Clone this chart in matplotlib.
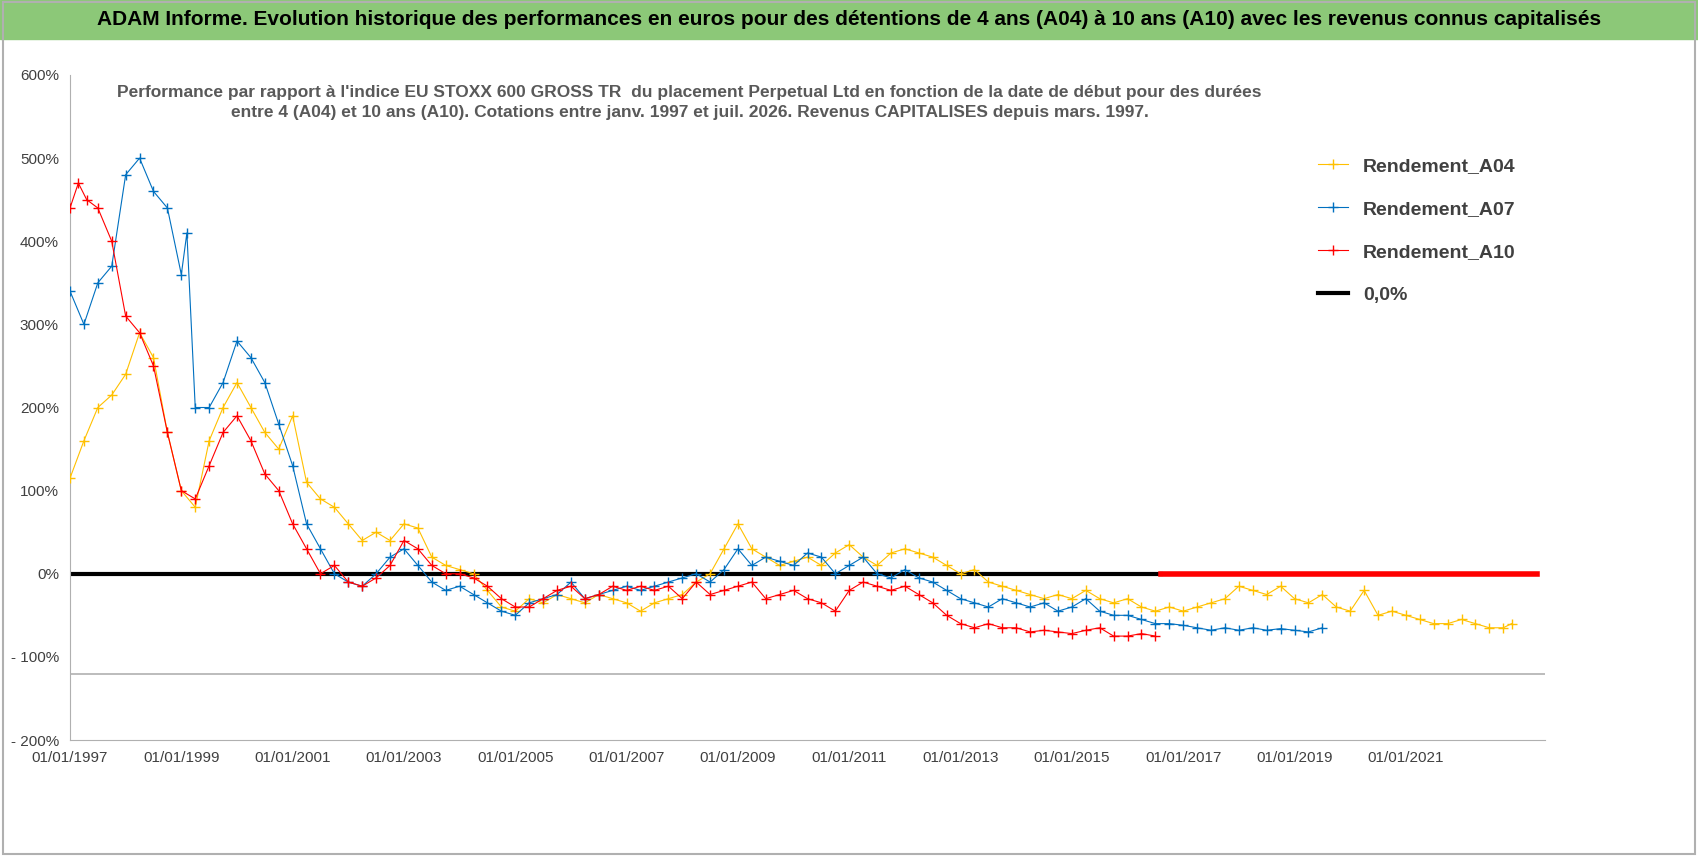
import matplotlib.pyplot as plt
from matplotlib.patches import Rectangle

plt.rcParams['font.family'] = ['Liberation Sans', 'DejaVu Sans']

# dates as decimal years, values in %
a04_x = [1997.0, 1997.25, 1997.5, 1997.75, 1998.0, 1998.25, 1998.5, 1998.75, 1999.0, 1999.25, 1999.5, 1999.75,
         2000.0, 2000.25, 2000.5, 2000.75, 2001.0, 2001.25, 2001.5, 2001.75, 2002.0, 2002.25, 2002.5, 2002.75,
         2003.0, 2003.25, 2003.5, 2003.75, 2004.0, 2004.25, 2004.5, 2004.75, 2005.0, 2005.25, 2005.5, 2005.75,
         2006.0, 2006.25, 2006.5, 2006.75, 2007.0, 2007.25, 2007.5, 2007.75, 2008.0, 2008.25, 2008.5, 2008.75,
         2009.0, 2009.25, 2009.5, 2009.75, 2010.0, 2010.25, 2010.5, 2010.75, 2011.0, 2011.25, 2011.5, 2011.75,
         2012.0, 2012.25, 2012.5, 2012.75, 2013.0, 2013.25, 2013.5, 2013.75, 2014.0, 2014.25, 2014.5, 2014.75,
         2015.0, 2015.25, 2015.5, 2015.75, 2016.0, 2016.25, 2016.5, 2016.75, 2017.0, 2017.25, 2017.5, 2017.75,
         2018.0, 2018.25, 2018.5, 2018.75, 2019.0, 2019.25, 2019.5, 2019.75, 2020.0, 2020.25, 2020.5, 2020.75,
         2021.0, 2021.25, 2021.5, 2021.75, 2022.0, 2022.25, 2022.5, 2022.75, 2022.9]
a04_y = [115, 160, 200, 215, 240, 290, 260, 170, 100, 80, 160, 200,
         230, 200, 170, 150, 190, 110, 90, 80, 60, 40, 50, 40,
         60, 55, 20, 10, 5, 0, -20, -40, -45, -30, -35, -25,
         -30, -35, -25, -30, -35, -45, -35, -30, -25, -10, 0, 30,
         60, 30, 20, 10, 15, 20, 10, 25, 35, 20, 10, 25,
         30, 25, 20, 10, 0, 5, -10, -15, -20, -25, -30, -25,
         -30, -20, -30, -35, -30, -40, -45, -40, -45, -40, -35, -30,
         -15, -20, -25, -15, -30, -35, -25, -40, -45, -20, -50, -45,
         -50, -55, -60, -60, -55, -60, -65, -65, -60]

a07_x = [1997.0, 1997.25, 1997.5, 1997.75, 1998.0, 1998.25, 1998.5, 1998.75, 1999.0, 1999.1, 1999.25, 1999.5,
         1999.75, 2000.0, 2000.25, 2000.5, 2000.75, 2001.0, 2001.25, 2001.5, 2001.75, 2002.0, 2002.25, 2002.5,
         2002.75, 2003.0, 2003.25, 2003.5, 2003.75, 2004.0, 2004.25, 2004.5, 2004.75, 2005.0, 2005.25, 2005.5,
         2005.75, 2006.0, 2006.25, 2006.5, 2006.75, 2007.0, 2007.25, 2007.5, 2007.75, 2008.0, 2008.25, 2008.5,
         2008.75, 2009.0, 2009.25, 2009.5, 2009.75, 2010.0, 2010.25, 2010.5, 2010.75, 2011.0, 2011.25, 2011.5,
         2011.75, 2012.0, 2012.25, 2012.5, 2012.75, 2013.0, 2013.25, 2013.5, 2013.75, 2014.0, 2014.25, 2014.5,
         2014.75, 2015.0, 2015.25, 2015.5, 2015.75, 2016.0, 2016.25, 2016.5, 2016.75, 2017.0, 2017.25, 2017.5,
         2017.75, 2018.0, 2018.25, 2018.5, 2018.75, 2019.0, 2019.25, 2019.5]
a07_y = [340, 300, 350, 370, 480, 500, 460, 440, 360, 410, 200, 200,
         230, 280, 260, 230, 180, 130, 60, 30, 0, -10, -15, 0,
         20, 30, 10, -10, -20, -15, -25, -35, -45, -50, -35, -30,
         -25, -10, -30, -25, -20, -15, -20, -15, -10, -5, 0, -10,
         5, 30, 10, 20, 15, 10, 25, 20, 0, 10, 20, 0,
         -5, 5, -5, -10, -20, -30, -35, -40, -30, -35, -40, -35,
         -45, -40, -30, -45, -50, -50, -55, -60, -60, -62, -65, -68,
         -65, -68, -65, -68, -66, -68, -70, -65]

a10_x = [1997.0, 1997.15, 1997.3, 1997.5, 1997.75, 1998.0, 1998.25, 1998.5, 1998.75, 1999.0, 1999.25, 1999.5,
         1999.75, 2000.0, 2000.25, 2000.5, 2000.75, 2001.0, 2001.25, 2001.5, 2001.75, 2002.0, 2002.25, 2002.5,
         2002.75, 2003.0, 2003.25, 2003.5, 2003.75, 2004.0, 2004.25, 2004.5, 2004.75, 2005.0, 2005.25, 2005.5,
         2005.75, 2006.0, 2006.25, 2006.5, 2006.75, 2007.0, 2007.25, 2007.5, 2007.75, 2008.0, 2008.25, 2008.5,
         2008.75, 2009.0, 2009.25, 2009.5, 2009.75, 2010.0, 2010.25, 2010.5, 2010.75, 2011.0, 2011.25, 2011.5,
         2011.75, 2012.0, 2012.25, 2012.5, 2012.75, 2013.0, 2013.25, 2013.5, 2013.75, 2014.0, 2014.25, 2014.5,
         2014.75, 2015.0, 2015.25, 2015.5, 2015.75, 2016.0, 2016.25, 2016.5]
a10_y = [440, 470, 450, 440, 400, 310, 290, 250, 170, 100, 90, 130,
         170, 190, 160, 120, 100, 60, 30, 0, 10, -10, -15, -5,
         10, 40, 30, 10, 0, 0, -5, -15, -30, -40, -40, -30,
         -20, -15, -30, -25, -15, -20, -15, -20, -15, -30, -10, -25,
         -20, -15, -10, -30, -25, -20, -30, -35, -45, -20, -10, -15,
         -20, -15, -25, -35, -50, -60, -65, -60, -65, -65, -70, -68,
         -70, -72, -68, -65, -75, -75, -72, -75]

# A10 has no 10-year window after mid-2016: drawn at 0
a10_zero_x = [2016.6, 2017.0, 2017.5, 2018.0, 2018.5, 2019.0, 2019.5, 2020.0, 2020.5, 2021.0, 2021.5, 2022.0,
              2022.5, 2023.0, 2023.35]
a10_zero_y = [0, 0, 0, 0, 0, 0, 0, 0, 0, 0, 0, 0, 0, 0, 0]

zero_x = [1997.0, 2016.6]
zero_y = [0, 0]

tick_years = [1997, 1999, 2001, 2003, 2005, 2007, 2009, 2011, 2013, 2015, 2017, 2019, 2021]
y_ticks = [-200, -100, 0, 100, 200, 300, 400, 500, 600]

fig = plt.figure(figsize=(16.98, 8.56), dpi=100)
fig.patches.append(Rectangle((0, 0.955), 1, 0.045, transform=fig.transFigure, color='#8cc878', zorder=0))
fig.patches.append(Rectangle((0.002, 0.002), 0.996, 0.996, transform=fig.transFigure, fill=False,
                             edgecolor='#b0b0b0', lw=1.5))
fig.text(0.5, 0.977, "ADAM Informe. Evolution historique des performances en euros pour des détentions de 4 ans (A04) "
         "à 10 ans (A10) avec les revenus connus capitalisés",
         ha='center', va='center', fontsize=15, fontweight='bold')

ax = fig.add_axes([70 / 1698, 1 - 740 / 856, 1475 / 1698, 665 / 856])
ms = 7
ax.plot(a04_x, a04_y, color='#ffc000', marker='+', ms=ms, lw=0.8, label='Rendement_A04', zorder=3)
ax.plot(a07_x, a07_y, color='#0070c0', marker='+', ms=ms, lw=0.8, label='Rendement_A07', zorder=4)
ax.plot(a10_x, a10_y, color='#ff0000', marker='+', ms=ms, lw=0.8, label='Rendement_A10', zorder=5)
ax.plot(a10_zero_x, a10_zero_y, color='#ff0000', lw=4, zorder=5)
ax.plot(zero_x, zero_y, color='black', lw=3, label='0,0%', zorder=2)
ax.axhline(-120, color='#b0b0b0', lw=1.2, zorder=1)

ax.set_xlim(1997.0, 2023.5)
ax.set_ylim(-200, 600)
ax.set_xticks(tick_years)
ax.set_xticklabels([f"01/01/{y}" for y in tick_years], fontsize=11, color='#404040')
ax.set_yticks(y_ticks)
ax.set_yticklabels([f"- {abs(v)}%" if v < 0 else f"{v}%" for v in y_ticks], fontsize=11, color='#404040')
for s in ['top', 'right']:
    ax.spines[s].set_visible(False)
ax.spines['left'].set_color('#b0b0b0')
ax.spines['bottom'].set_color('#b0b0b0')
ax.tick_params(length=0, pad=8)

ax.text(0.42, 0.985, "Performance par rapport à l'indice EU STOXX 600 GROSS TR  du placement Perpetual Ltd en fonction "
        "de la date de début pour des durées\nentre 4 (A04) et 10 ans (A10). Cotations entre janv. 1997 et juil. 2026. "
        "Revenus CAPITALISES depuis mars. 1997.",
        transform=ax.transAxes, ha='center', va='top', fontsize=12.5, fontweight='bold', color='#595959',
        linespacing=1.4)

leg = ax.legend(loc='upper right', bbox_to_anchor=(1.0, 0.92), fontsize=14, frameon=True, framealpha=1,
                edgecolor='white', labelspacing=1.3, handlelength=1.5, borderpad=1.0)
for t in leg.get_texts():
    t.set_fontweight('bold')
    t.set_color('#404040')

fig.savefig('out.png', dpi=100)
